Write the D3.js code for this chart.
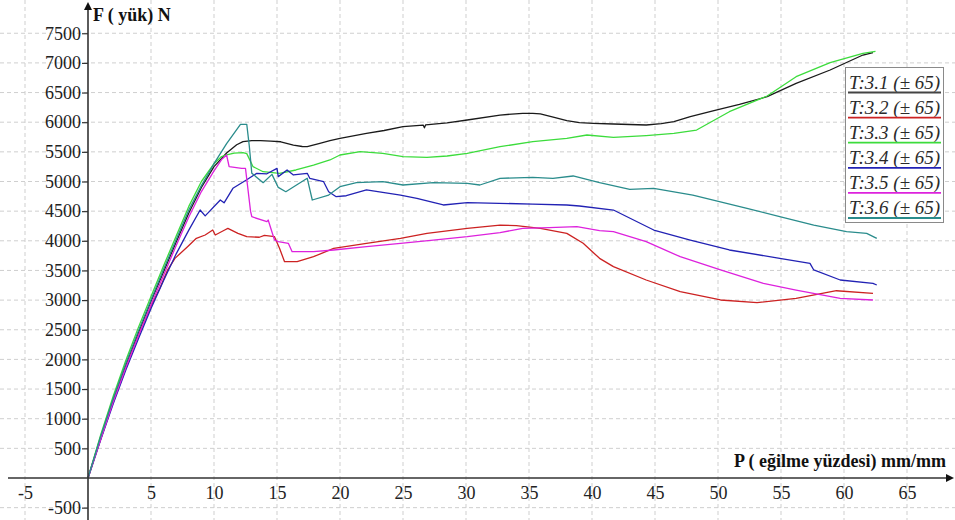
<!DOCTYPE html>
<html>
<head>
<meta charset="utf-8">
<script src="https://cdn.jsdelivr.net/npm/d3@7"></script>
<style>
  html, body { margin: 0; padding: 0; background: #fff; }
  svg { display: block; }
</style>
</head>
<body>
<div id="chart"></div>
<script>
// ---------- DATA ----------
const xTicks = [-5, 5, 10, 15, 20, 25, 30, 35, 40, 45, 50, 55, 60, 65];
const yTicks = [-500, 500, 1000, 1500, 2000, 2500, 3000, 3500, 4000, 4500, 5000, 5500, 6000, 6500, 7000, 7500];
const xGrid = [-5, 5, 10, 15, 20, 25, 30, 35, 40, 45, 50, 55, 60, 65];
const yGrid = [-500, 500, 1000, 1500, 2000, 2500, 3000, 3500, 4000, 4500, 5000, 5500, 6000, 6500, 7000, 7500];

const seriesNames = ["T:3.1 (± 65)", "T:3.2 (± 65)", "T:3.3 (± 65)", "T:3.4 (± 65)", "T:3.5 (± 65)", "T:3.6 (± 65)"];
const seriesColors = ["#1a1a1a", "#cc2222", "#3cdc3c", "#2222b4", "#dd22dd", "#2a8c8c"];
const legendLineColors = ["#444444", "#cc2222", "#3cdc3c", "#2222b4", "#dd22dd", "#2a8c8c"];

const s31 = [[0,0],[1,680],[2,1320],[3,1900],[4,2450],[5,2980],[6,3480],[7,3980],[8,4470],[9,4900],[10,5250],[11,5480],[11.8,5620],[12.3,5671],[13.0,5690],[13.7,5688],[14.5,5680],[15.3,5670],[16.3,5615],[17.0,5590],[17.4,5587],[18.4,5643],[19.2,5688],[20.0,5728],[22.1,5812],[23.5,5860],[25.0,5924],[26.6,5952],[26.7,5905],[26.8,5955],[28.5,5990],[30.1,6037],[32.7,6121],[34.5,6150],[35.3,6150],[35.9,6140],[37.0,6080],[38.0,6026],[39.0,5992],[40.1,5981],[41.7,5970],[44.3,5953],[45.5,5975],[46.5,6009],[47.8,6093],[49.6,6190],[51.7,6300],[53.9,6430],[56.2,6655],[58.9,6880],[61.5,7133],[62.3,7175]];
const s32 = [[0,0],[1,650],[2,1280],[3,1860],[4,2400],[5,2900],[5.7,3199],[6.3,3500],[6.9,3704],[7.9,3900],[8.6,4042],[9.3,4098],[9.9,4182],[10.1,4098],[10.85,4182],[11.1,4210],[11.9,4126],[12.6,4069],[13.6,4060],[14.0,4090],[14.8,4069],[15.2,3873],[15.6,3648],[16.6,3648],[17.9,3732],[19.5,3873],[22.1,3958],[24.8,4042],[26.9,4126],[30.1,4210],[32.7,4266],[34.0,4255],[35.9,4210],[38.0,4126],[39.3,3958],[40.6,3704],[41.7,3564],[44.3,3339],[47.0,3142],[50.2,3002],[53.1,2956],[56.2,3030],[59.4,3158],[62.3,3115]];
const s33 = [[0,0],[1,720],[2,1380],[3,1980],[4,2540],[5,3060],[6,3580],[7,4080],[8,4580],[9,5000],[10,5300],[10.6,5420],[11.0,5447],[11.6,5480],[12.3,5486],[12.6,5470],[13.1,5250],[13.9,5165],[15.2,5138],[16.5,5194],[17.9,5278],[19.2,5363],[20.0,5447],[21.6,5503],[23.4,5475],[25.0,5419],[26.9,5408],[28.5,5430],[30.1,5475],[32.7,5587],[35.3,5671],[38.0,5728],[39.6,5784],[41.7,5745],[44.3,5775],[46.5,5810],[48.3,5868],[50.9,6177],[53.9,6442],[56.2,6767],[58.9,7003],[61.5,7162],[62.5,7195]];
const s34 = [[0,0],[1,640],[2,1250],[3,1820],[4,2350],[5,2860],[6,3330],[7,3780],[8,4180],[8.9,4519],[9.3,4420],[10.5,4688],[10.8,4640],[11.5,4885],[12.6,5030],[13.4,5138],[14.2,5130],[15.0,5222],[15.1,5082],[15.8,5194],[16.3,5110],[17.4,5138],[17.6,5054],[18.7,4997],[19.1,4828],[19.7,4744],[20.5,4760],[22.1,4857],[24.8,4772],[26.1,4716],[28.2,4604],[30.1,4643],[35.3,4620],[38.0,4604],[39.0,4587],[41.7,4519],[44.9,4182],[47.8,4013],[50.9,3845],[54.9,3704],[57.3,3620],[57.6,3508],[59.7,3339],[62.3,3283],[62.6,3255]];
const s35 = [[0,0],[1,650],[2,1280],[3,1860],[4,2400],[5,2920],[6,3420],[7,3920],[8,4400],[9,4830],[10,5180],[10.6,5370],[11.0,5447],[11.2,5250],[12.2,5222],[12.5,5220],[12.9,4500],[13.0,4406],[14.2,4322],[14.3,4350],[14.8,4013],[15.1,3985],[15.9,3958],[16.2,3817],[17.9,3817],[19.5,3845],[22.1,3901],[24.8,3958],[27.4,4013],[30.1,4069],[32.7,4137],[34.5,4210],[36.6,4221],[38.8,4238],[40.6,4171],[41.7,4154],[44.3,3985],[47.0,3732],[50.2,3508],[53.6,3283],[56.2,3170],[59.7,3030],[62.3,3002]];
const s36 = [[0,0],[1,700],[2,1340],[3,1930],[4,2480],[5,3000],[6,3520],[7,4020],[8,4520],[9,4930],[10,5300],[11,5640],[12.1,5965],[12.6,5965],[12.8,5600],[13.0,5140],[13.9,4980],[14.6,5120],[15.1,4900],[15.7,4828],[17.4,5054],[17.8,4688],[19.1,4772],[20.0,4913],[21.3,4980],[23.4,4997],[25.0,4941],[27.4,4980],[30.1,4970],[31.1,4941],[32.7,5054],[35.3,5070],[36.9,5054],[38.5,5093],[40.6,4980],[43.0,4868],[44.9,4885],[48.0,4772],[52.3,4548],[54.9,4406],[57.6,4266],[60.2,4154],[61.8,4126],[62.6,4042]];

const allSeries = [s31, s32, s33, s34, s35, s36];

// ---------- LAYOUT ----------
const W = 955, H = 520;
const svg = d3.select("#chart").append("svg").attr("width", W).attr("height", H);

const x = d3.scaleLinear().domain([-5, 65]).range([25, 907]);
const y = d3.scaleLinear().domain([-500, 7500]).range([507.65, 33.25]);

const serif = "'Liberation Serif', 'Times New Roman', serif";
const plainFmt = d => String(d);

// grid
const grid = svg.append("g");
grid.selectAll("line.vg").data(xGrid).join("line")
  .attr("x1", d => x(d)).attr("x2", d => x(d))
  .attr("y1", 0).attr("y2", H)
  .attr("stroke", "#cfcfcf").attr("stroke-width", 1).attr("stroke-dasharray", "4,3");
grid.selectAll("line.hg").data(yGrid).join("line")
  .attr("x1", 0).attr("x2", W)
  .attr("y1", d => y(d)).attr("y2", d => y(d))
  .attr("stroke", "#cfcfcf").attr("stroke-width", 1).attr("stroke-dasharray", "4,3");

// series
const line = d3.line().x(d => x(d[0])).y(d => y(d[1]));
svg.append("g").selectAll("path").data(allSeries).join("path")
  .attr("d", line)
  .attr("fill", "none")
  .attr("stroke", (d, i) => seriesColors[i])
  .attr("stroke-width", 1.3)
  .attr("stroke-linejoin", "round");

// axes lines
const axisColor = "#333";
svg.append("line").attr("x1", 8).attr("x2", W - 6).attr("y1", y(0)).attr("y2", y(0))
  .attr("stroke", axisColor).attr("stroke-width", 1.6);
svg.append("line").attr("x1", x(0)).attr("x2", x(0)).attr("y1", H).attr("y2", 8)
  .attr("stroke", axisColor).attr("stroke-width", 1.6);
// arrows
svg.append("path")
  .attr("d", `M${W - 1},${y(0)} L${W - 9},${y(0) - 4} L${W - 9},${y(0) + 4} Z`)
  .attr("fill", "#111");
svg.append("path")
  .attr("d", `M${x(0)},2 L${x(0) - 4},10 L${x(0) + 4},10 Z`)
  .attr("fill", "#111");

// y axis ticks/labels
const yAxis = d3.axisLeft(y).tickValues(yTicks).tickSize(6).tickPadding(1).tickFormat(plainFmt);
const gy = svg.append("g").attr("transform", `translate(${x(0)},0)`).call(yAxis);
gy.select(".domain").remove();
gy.selectAll(".tick line").attr("stroke", axisColor).attr("stroke-width", 1.2);
gy.selectAll(".tick text").attr("font-family", serif).attr("font-size", 18).attr("fill", "#222");

// x axis labels
const xAxis = d3.axisBottom(x).tickValues(xTicks).tickSize(0).tickPadding(8).tickFormat(plainFmt);
const gx = svg.append("g").attr("transform", `translate(0,${y(0)})`).call(xAxis);
gx.select(".domain").remove();
gx.selectAll(".tick text").attr("font-family", serif).attr("font-size", 18).attr("fill", "#222");

// axis titles
svg.append("text").attr("x", 93).attr("y", 21)
  .attr("font-family", serif).attr("font-size", 18).attr("font-weight", "bold").attr("fill", "#111")
  .text("F ( yük) N");
svg.append("text").attr("x", 946).attr("y", 467).attr("text-anchor", "end")
  .attr("font-family", serif).attr("font-size", 18).attr("font-weight", "bold").attr("fill", "#111")
  .text("P ( eğilme yüzdesi) mm/mm");

// legend
const lg = svg.append("g").attr("transform", "translate(845.5,67.5)");
lg.append("rect").attr("x", 0).attr("y", 0).attr("width", 98).attr("height", 155)
  .attr("fill", "#fff").attr("stroke", "#8a8a8a").attr("stroke-width", 1);
const rows = lg.selectAll("g.row").data(seriesNames).join("g")
  .attr("transform", (d, i) => `translate(0,${i * 25.1})`);
rows.append("text").attr("x", 3.5).attr("y", 21)
  .attr("font-family", serif).attr("font-style", "italic").attr("font-size", 19).attr("fill", "#2a2a2a")
  .text(d => d);
rows.append("line").attr("x1", 2.5).attr("x2", 95.5).attr("y1", 25).attr("y2", 25)
  .attr("stroke", (d, i) => legendLineColors[i]).attr("stroke-width", 1.8);
</script>
</body>
</html>
